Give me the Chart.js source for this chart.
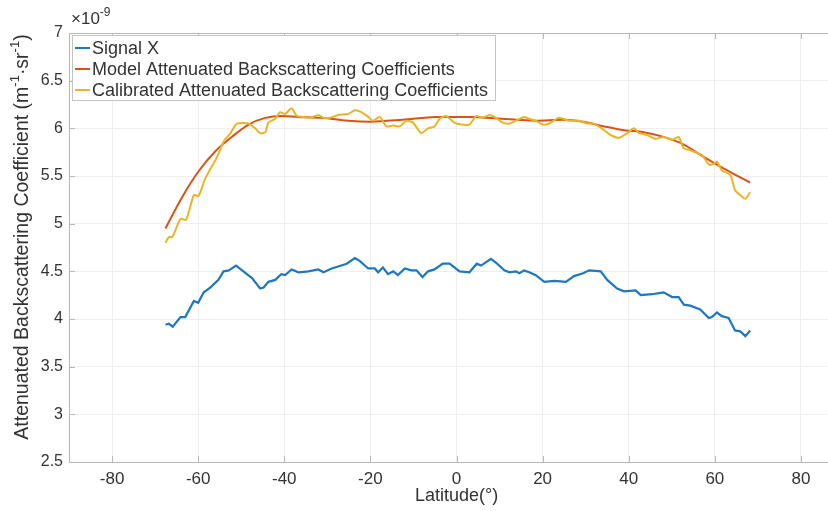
<!DOCTYPE html>
<html>
<head>
<meta charset="utf-8">
<script src="https://cdn.jsdelivr.net/npm/chart.js@4/dist/chart.umd.min.js"></script>
<style>
  html, body { margin: 0; padding: 0; background: #fff; overflow: hidden; }
  #wrap { position: relative; width: 870px; height: 511px; }
  #c { display: block; }
</style>
</head>
<body>
<div id="wrap"><canvas id="c" width="870" height="511"></canvas></div>
<script>
// Latitude (deg) and attenuated backscattering coefficient (x 1e-9 m^-1 sr^-1)
const signalLat = [-67.6,-66.8,-65.9,-64.1,-63.0,-61.0,-60.0,-58.7,-57.2,-55.3,-54.1,-52.9,-51.2,-49.5,-47.5,-45.6,-44.8,-43.7,-42.1,-40.7,-39.8,-38.3,-36.7,-34.4,-32.1,-30.9,-29.0,-27.5,-25.5,-23.6,-22.5,-20.5,-19.0,-18.2,-17.1,-15.9,-14.7,-13.6,-12.0,-10.5,-9.3,-7.9,-6.6,-5.1,-3.2,-1.6,0.7,3.0,4.7,5.7,8.0,9.2,11.1,12.3,13.8,14.6,15.7,16.9,18.4,20.4,22.7,25.4,27.3,29.4,30.8,33.5,35.0,37.3,38.9,41.6,42.8,45.4,48.1,50.1,51.6,52.8,54.3,56.6,58.6,59.3,60.5,61.6,63.2,64.7,65.9,67.1,68.2];
const signalVal = [3.94,3.95,3.92,4.02,4.02,4.19,4.17,4.28,4.33,4.41,4.50,4.51,4.56,4.50,4.43,4.32,4.33,4.39,4.41,4.47,4.46,4.52,4.49,4.50,4.52,4.49,4.53,4.55,4.58,4.64,4.61,4.53,4.53,4.49,4.54,4.47,4.50,4.46,4.53,4.51,4.51,4.44,4.50,4.52,4.58,4.58,4.50,4.49,4.58,4.56,4.63,4.59,4.51,4.49,4.50,4.48,4.51,4.49,4.46,4.39,4.40,4.39,4.45,4.48,4.51,4.50,4.41,4.32,4.29,4.30,4.25,4.26,4.28,4.23,4.23,4.15,4.14,4.10,4.01,4.02,4.07,4.03,4.01,3.88,3.87,3.82,3.88];

const modelLat = [-67.6,-63.7,-59.9,-56.0,-52.2,-48.3,-44.4,-40.6,-36.7,-31.3,-25.2,-20.0,-12.5,-4.7,3.0,10.7,18.4,24.6,29.4,34.3,38.9,43.5,48.1,52.8,57.4,62.0,68.2];
const modelVal = [4.95,5.28,5.55,5.76,5.91,6.04,6.11,6.13,6.12,6.11,6.08,6.07,6.09,6.12,6.12,6.10,6.08,6.09,6.07,6.02,5.98,5.96,5.91,5.83,5.70,5.58,5.43];

const calLat = [-67.6,-66.8,-66.0,-64.1,-62.8,-61.0,-59.9,-58.3,-55.6,-54.1,-52.5,-51.0,-48.3,-46.8,-45.6,-44.4,-43.7,-42.1,-41.0,-39.8,-38.3,-37.1,-35.6,-34.0,-32.1,-30.9,-29.4,-27.5,-25.2,-23.6,-22.1,-20.5,-19.4,-17.8,-16.3,-14.7,-13.2,-11.6,-10.1,-8.2,-6.6,-5.1,-3.9,-2.4,-0.5,1.1,3.0,4.6,6.1,7.6,9.2,10.7,12.3,13.8,15.7,16.9,18.4,20.0,21.5,23.8,26.2,28.5,30.4,31.9,34.3,35.8,37.7,39.7,41.2,42.4,44.3,46.2,48.1,50.1,51.6,52.8,54.3,55.9,57.0,58.6,59.3,60.5,61.6,63.6,64.7,65.9,67.1,68.2];
const calVal = [4.80,4.86,4.86,5.05,5.04,5.30,5.29,5.48,5.70,5.86,5.95,6.05,6.05,6.00,5.95,5.96,6.06,6.10,6.17,6.15,6.21,6.13,6.12,6.11,6.14,6.11,6.11,6.14,6.15,6.19,6.17,6.12,6.08,6.12,6.02,6.03,6.02,6.08,6.06,5.95,6.00,6.02,6.10,6.13,6.06,6.04,6.04,6.13,6.11,6.14,6.11,6.06,6.05,6.08,6.12,6.10,6.08,6.04,6.05,6.11,6.08,6.08,6.05,6.05,5.98,5.93,5.90,5.95,6.00,5.95,5.93,5.89,5.91,5.88,5.91,5.79,5.77,5.74,5.72,5.62,5.62,5.65,5.56,5.51,5.35,5.30,5.26,5.33];

const seriesNames = ['Signal X', 'Model Attenuated Backscattering Coefficients', 'Calibrated Attenuated Backscattering Coefficients'];
const xTicks = [-80, -60, -40, -20, 0, 20, 40, 60, 80];
const yTicks = [2.5, 3, 3.5, 4, 4.5, 5, 5.5, 6, 6.5, 7];

const FONT = '"Liberation Sans", Arial, sans-serif';
const TEXT = '#333333';
const AXIS = '#b8b8b8';

const pts = (xs, ys) => xs.map((x, i) => ({ x, y: ys[i] }));

// Draws runs of [text, isSuperscript] left to right from (x, y) on the baseline
function drawRuns(ctx, runs, x, y, size) {
  let cx = x;
  runs.forEach(([t, sup]) => {
    ctx.font = (sup ? Math.round(size * 0.68) : size) + 'px ' + FONT;
    ctx.fillText(t, cx, sup ? y - size * 0.45 : y);
    cx += ctx.measureText(t).width;
  });
}
function runsWidth(ctx, runs, size) {
  return runs.reduce((w, [t, sup]) => {
    ctx.font = (sup ? Math.round(size * 0.68) : size) + 'px ' + FONT;
    return w + ctx.measureText(t).width;
  }, 0);
}

// Box outline, inward tick marks, axis title with units, exponent label and the legend
const decor = {
  id: 'decor',
  afterDatasetsDraw(chart) {
    const { ctx, chartArea: a, scales: { x, y } } = chart;
    ctx.save();
    ctx.strokeStyle = AXIS;
    ctx.lineWidth = 1;
    ctx.beginPath();
    ctx.moveTo(a.left + 0.5, a.bottom + 0.5);
    ctx.lineTo(a.left + 0.5, a.top + 0.5);
    ctx.lineTo(a.right + 0.5, a.top + 0.5);
    ctx.lineTo(a.right + 0.5, a.bottom + 0.5);
    ctx.lineTo(a.left + 0.5, a.bottom + 0.5);
    ctx.stroke();
    ctx.beginPath();
    xTicks.forEach(v => {
      const px = Math.round(x.getPixelForValue(v)) + 0.5;
      ctx.moveTo(px, a.bottom); ctx.lineTo(px, a.bottom - 6);
      ctx.moveTo(px, a.top); ctx.lineTo(px, a.top + 6);
    });
    yTicks.forEach(v => {
      const py = Math.round(y.getPixelForValue(v)) + 0.5;
      ctx.moveTo(a.left, py); ctx.lineTo(a.left + 6, py);
    });
    ctx.stroke();

    ctx.fillStyle = TEXT;
    ctx.textBaseline = 'alphabetic';
    ctx.textAlign = 'left';

    // y-axis title, rotated
    const ySize = 19.5;
    const yRuns = [['Attenuated Backscattering Coefficient (m', false], ['-1', true], ['\u00b7sr', false], ['-1', true], [')', false]];
    const tw = runsWidth(ctx, yRuns, ySize);
    ctx.save();
    ctx.translate(28, 237);
    ctx.rotate(-Math.PI / 2);
    drawRuns(ctx, yRuns, -tw / 2, 0, ySize);
    ctx.restore();

    // exponent
    drawRuns(ctx, [['\u00d710', false], ['-9', true]], a.left + 2, a.top - 9, 17);

    // legend
    const lx = 72, ly = 35, lw = 423, lh = 65;
    ctx.fillStyle = '#ffffff';
    ctx.fillRect(lx, ly, lw, lh);
    ctx.strokeStyle = '#c4c4c4';
    ctx.strokeRect(lx + 0.5, ly + 0.5, lw, lh);
    ctx.font = '18px ' + FONT;
    ctx.textBaseline = 'middle';
    chart.data.datasets.forEach((ds, i) => {
      const cy = ly + 13 + i * 21;
      ctx.strokeStyle = ds.borderColor;
      ctx.lineWidth = 2;
      ctx.beginPath();
      ctx.moveTo(lx + 3, cy); ctx.lineTo(lx + 18, cy);
      ctx.stroke();
      ctx.fillStyle = TEXT;
      ctx.fillText(ds.label, lx + 20, cy + 1);
    });
    ctx.restore();
  }
};

new Chart(document.getElementById('c'), {
  type: 'line',
  data: {
    datasets: [
      { label: seriesNames[0], data: pts(signalLat, signalVal), borderColor: '#1f77c0', borderWidth: 2.2, pointRadius: 0, tension: 0, order: 2 },
      { label: seriesNames[1], data: pts(modelLat, modelVal), borderColor: '#d95319', borderWidth: 2, pointRadius: 0, cubicInterpolationMode: 'monotone', order: 1 },
      { label: seriesNames[2], data: pts(calLat, calVal), borderColor: '#e9b526', borderWidth: 2, pointRadius: 0, tension: 0.2, order: 0 }
    ]
  },
  options: {
    responsive: false,
    animation: false,
    devicePixelRatio: 1,
    layout: { padding: { top: 33, right: 26, left: 0, bottom: 0 } },
    plugins: { legend: { display: false }, tooltip: { enabled: false } },
    scales: {
      x: {
        type: 'linear', min: -90, max: 90,
        afterBuildTicks: s => { s.ticks = xTicks.map(v => ({ value: v })); },
        afterFit: s => { s.height = 49; },
        grid: { color: '#eeeeee', drawTicks: false },
        border: { display: false },
        ticks: { color: TEXT, font: { family: FONT, size: 17 }, padding: 7, maxRotation: 0, autoSkip: false },
        title: { display: true, text: 'Latitude(\u00b0)', color: TEXT, font: { family: FONT, size: 18 }, padding: { top: 0, bottom: 4 } }
      },
      y: {
        type: 'linear', min: 2.5, max: 7,
        afterBuildTicks: s => { s.ticks = yTicks.map(v => ({ value: v })); },
        afterFit: s => { s.width = 69; },
        grid: { color: '#eeeeee', drawTicks: false },
        border: { display: false },
        ticks: { color: TEXT, font: { family: FONT, size: 16 }, padding: 6, autoSkip: false, callback: v => String(v) },
        title: { display: false }
      }
    }
  },
  plugins: [decor]
});
</script>
</body>
</html>
